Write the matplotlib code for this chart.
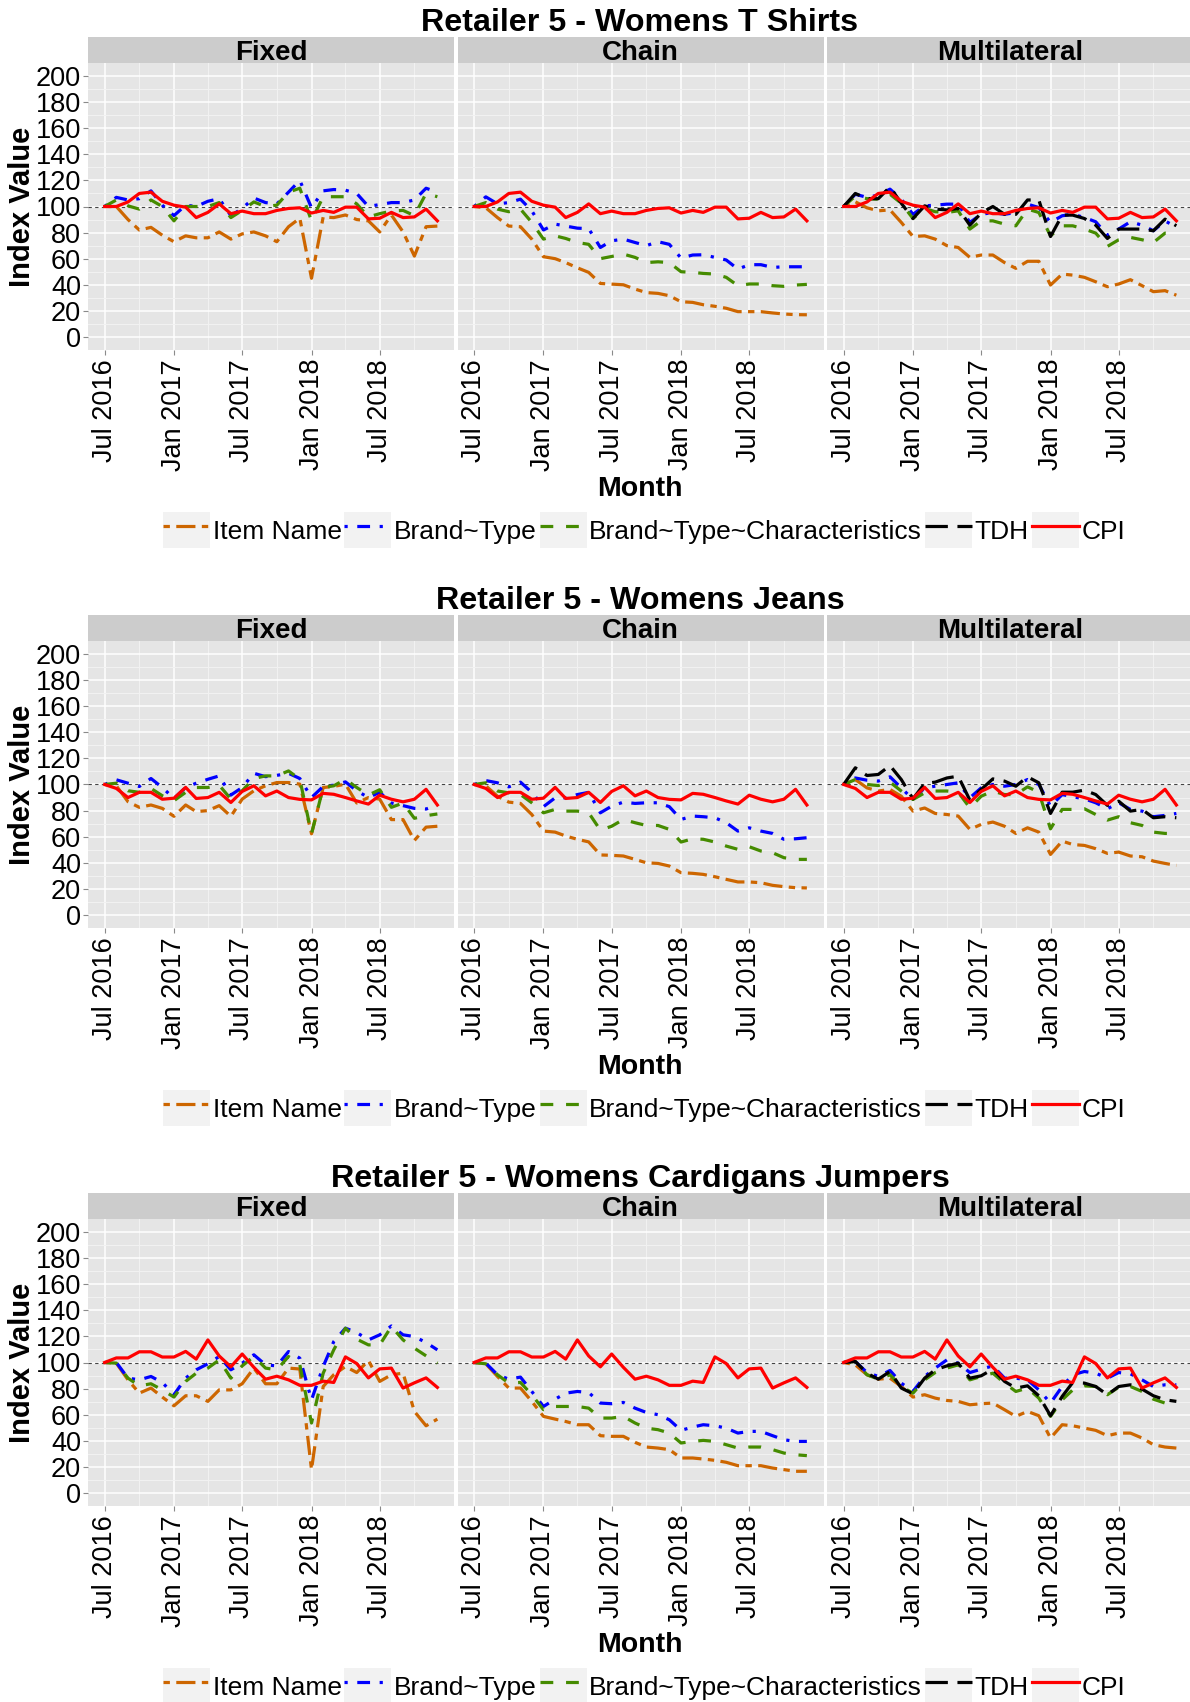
import matplotlib
matplotlib.use('Agg')
import matplotlib.pyplot as plt
import pandas as pd
from matplotlib.patches import Rectangle
from matplotlib.lines import Line2D
from matplotlib.legend_handler import HandlerTuple
from matplotlib.ticker import FixedLocator

plt.rcParams['font.family'] = ['Liberation Sans', 'DejaVu Sans']

# ---------------- data ----------------
months = pd.date_range('2016-07-01', periods=30, freq='MS')
major_ticks = pd.to_datetime(['2016-07-01', '2017-01-01', '2017-07-01', '2018-01-01', '2018-07-01'])
minor_ticks = pd.to_datetime(['2016-10-01', '2017-04-01', '2017-10-01', '2018-04-01', '2018-10-01'])
tick_labels = ['Jul 2016', 'Jan 2017', 'Jul 2017', 'Jan 2018', 'Jul 2018']

titles = ['Retailer 5 - Womens T Shirts', 'Retailer 5 - Womens Jeans', 'Retailer 5 - Womens Cardigans Jumpers']
methods = ['Fixed', 'Chain', 'Multilateral']
series_names = ['Item Name', 'Brand~Type', 'Brand~Type~Characteristics', 'TDH', 'CPI']

# Womens T Shirts
ts_cpi = [100, 100, 103.5, 110, 111, 104, 101, 99.5, 91.5, 95.5, 102, 94.5, 96.5, 94.5, 94.5, 97, 98.5, 99, 95, 97,
          95.5, 99.5, 99.5, 90.5, 91, 95.5, 91.5, 92, 98, 89]
ts_fixed_item = [100, 100, 90, 82, 84, 78, 73, 77.5, 76, 76, 80.5, 75, 79, 80.5, 77.5, 73, 84.5, 91, 45, 92,
                 91.5, 93.5, 90, 89, 80.5, 93.5, 80.5, 62, 84.5, 85]
ts_fixed_bt = [100, 107, 105, 106, 112, 101, 93, 101, 100, 104, 106, 93, 98.5, 106.5, 103, 102, 111, 120, 99, 112,
               113, 112.5, 110, 100, 101.5, 103, 103, 105, 114, 111]
ts_fixed_btc = [100, 105, 100.5, 98, 105, 100, 89, 100, 100, 100, 103, 91.5, 97, 103.5, 100, 101, 111, 114, 89, 107.5,
                107.5, 107.5, 102, 92, 94.5, 96.5, 97, 93, 110, 107.5]
ts_chain_item = [100, 99, 91.5, 85, 84.5, 75, 61.5, 60, 57, 53, 49.5, 41, 40.5, 40, 36.7, 34, 33.4, 31.6, 27, 26.5,
                 24.7, 23.5, 22, 19.4, 19.4, 19.4, 18.4, 17.6, 17.1, 17]
ts_chain_bt = [100, 107.4, 102, 103, 105.6, 96.7, 82, 86.5, 85, 83.4, 83, 68.6, 73.7, 75, 72.4, 70, 73, 71, 60.5, 62.8,
               63, 61, 59, 52, 55.4, 55.4, 53.3, 53.8, 53.8, 53.8]
ts_chain_btc = [100, 103, 98, 96, 98, 87.8, 75, 77.5, 75.5, 72.4, 71, 60, 61.7, 63.5, 61, 57, 57.6, 57, 50, 49.5,
                48.7, 48.2, 45.7, 39.3, 40.6, 40.6, 39.3, 38.8, 39.8, 40.3]
ts_multi_item = [100, 103.6, 99, 96.7, 97.4, 87.8, 77, 77.5, 75, 70, 68.6, 61, 62.8, 62.8, 57, 52.6, 58, 58, 39.8, 48.2,
                 47.4, 45.7, 42.3, 38.5, 40.6, 43.9, 39.3, 34.7, 35.5, 32]
ts_multi_bt = [100, 109.4, 107, 108.7, 113.3, 105.6, 94, 100.5, 101, 101.8, 101.8, 87.8, 94, 95.4, 94, 95.4, 101.8, 99.2,
               87.8, 92.9, 94, 91.6, 88.3, 78, 82.7, 88.3, 85.7, 81.4, 89, 84]
ts_multi_btc = [100, 108, 106, 105.6, 109.4, 102.5, 90.8, 98.5, 96, 95.4, 96.7, 82.7, 89, 89, 86.5, 85.2, 98, 95.4,
                77.5, 85.2, 85.2, 82.7, 79.6, 69.4, 74.5, 76.3, 74.5, 72.4, 79.6, 79]
ts_multi_tdh = [100, 110, 106, 106, 115, 102.5, 90.8, 100.5, 98, 97.4, 98.5, 85.7, 95, 100, 94, 94, 105, 105, 77, 93.4,
                93.4, 90.8, 85.7, 75.5, 82.7, 82.7, 82.7, 81.4, 90.3, 85.2]

# Womens Jeans
jn_cpi = [100, 97, 90, 94, 94, 88.7, 89.5, 97.8, 89.3, 90, 94, 86.2, 94.7, 99, 91.3, 95, 90, 88.6, 88.2, 93.2,
          92.5, 90, 87.4, 85, 91.8, 88.7, 86.7, 88.7, 96.3, 84.3]
jn_fixed_item = [100, 99, 86.8, 82.5, 84.3, 81.7, 75.6, 84.3, 79.2, 80, 83.8, 75.6, 88.8, 95.2, 99, 101.5, 101.5, 100.3,
                 62.2, 97.7, 98.5, 100.3, 85.8, 90, 88.8, 73.1, 73.1, 57.1, 67.3, 68]
jn_fixed_bt = [100, 103.6, 101, 98.5, 104.6, 97.7, 89.3, 97.7, 101, 104, 106.6, 91.9, 97.7, 108.6, 106, 107, 108.6,
               104.6, 90, 98.5, 99.5, 102, 95.2, 90, 94, 85.8, 83.8, 81.7, 81.2, 84.3]
jn_fixed_btc = [100, 101, 95.2, 94, 97, 91.4, 87.6, 94, 97.7, 97.7, 99.5, 88.8, 95.2, 104.6, 106.6, 106.6, 110.4, 104,
                62.2, 97.7, 99, 104, 97.7, 91.9, 96, 82.5, 85.8, 74.1, 76.1, 77.4]
jn_chain_item = [100, 99, 91, 86.5, 85.5, 77, 64.3, 63.5, 60.5, 58, 56, 46, 45.7, 45.2, 42.6, 40, 39.5, 37.5, 32.4,
                 31.9, 31.1, 29.3, 27.3, 25.3, 25.3, 24.7, 22.7, 21.7, 20.9, 20.7]
jn_chain_bt = [100, 103, 101.3, 98.2, 101.8, 94, 83, 89.8, 89.8, 92.3, 94, 78.3, 83.4, 86.5, 85.5, 86, 86, 83, 73.2,
               75.8, 75.3, 74.5, 70.7, 64.3, 66.8, 64.3, 62.5, 58, 58.4, 59.2]
jn_chain_btc = [100, 101.3, 95, 93.6, 92.3, 86, 78.3, 80.9, 79.6, 79.6, 78.3, 65, 68, 73.2, 70.7, 68.6, 68.6, 65.6,
                55.9, 58.4, 58, 55.9, 52.8, 50.3, 52.3, 49, 47.7, 43.9, 42.6, 42.6]
jn_multi_item = [100, 103.8, 97.4, 95, 96.2, 91, 79.6, 82, 77.8, 77, 75.8, 65.6, 69.4, 71.2, 68, 62.5, 66.8, 63.5,
                 46.4, 56.6, 54, 53.3, 50.8, 47.2, 48.2, 45.2, 44.6, 41.3, 39.5, 38]
jn_multi_bt = [100, 105, 103.3, 102.6, 105.9, 97.4, 88.5, 97.4, 98.7, 100, 101.3, 89.8, 97.4, 100, 98.7, 100, 103.8,
               100, 83.4, 92.3, 90.6, 89, 86, 81.4, 86, 80.9, 79.6, 75.3, 76.3, 77.8]
jn_multi_btc = [100, 103.8, 100, 99.2, 101.8, 95, 88.5, 93.6, 95, 95, 94.1, 82.1, 91, 95, 92.3, 92.3, 98.2, 94.1, 66,
                80.9, 80.9, 81.4, 77, 72.7, 75.3, 70.7, 68.6, 63.5, 62.5, 62.5]
jn_multi_tdh = [100, 112.8, 106.9, 107.7, 114.5, 103.8, 89, 100.8, 101.8, 105, 106.4, 88, 96.2, 104.3, 102.6, 98.7,
                105.9, 101.3, 77.8, 94.1, 94.1, 95.7, 92.3, 84, 87.2, 79.6, 80.9, 74.5, 75.3, 74.5]

# Womens Cardigans Jumpers
cj_cpi = [100, 103.5, 103.5, 108.2, 108.2, 104.2, 104.2, 108.5, 102.6, 117.3, 105, 96.7, 106.5, 96.3, 87.2, 89.5,
          86.7, 82.5, 82.5, 85.7, 84.7, 104.3, 99.2, 88.2, 95.1, 95.7, 80.4, 84.4, 88.2, 80.9]
cj_fixed_item = [100, 99.5, 86.7, 76.5, 80.4, 73.5, 66.8, 74.5, 74.5, 70.2, 79, 79, 83.7, 95.7, 83.7, 83.7, 95.7, 95,
                 17.9, 81.6, 90.6, 96.9, 92.3, 101.5, 85.5, 90.6, 91.8, 62.5, 51.5, 56.6]
cj_fixed_bt = [100, 100, 88, 86.7, 89.3, 84.7, 75.3, 88, 94.4, 99, 104.6, 94.4, 99.5, 105.9, 98.2, 97.4, 108.4, 103.3,
               71.4, 96.9, 116, 126.3, 123, 117.3, 121.2, 128, 121.2, 119.9, 115.3, 109.7]
cj_fixed_btc = [100, 99.5, 88, 82.1, 83.7, 79, 73.5, 85.5, 91.8, 95.7, 102, 88, 97.4, 104.6, 95.7, 94.4, 104.6, 98.2,
                53.6, 91.8, 109.7, 126.3, 117.9, 113.5, 113.5, 127.6, 117.3, 111, 105.1, 99.5]
cj_chain_item = [100, 99, 89.3, 80.4, 80.4, 70.2, 58.7, 56.6, 54.8, 52.3, 52.3, 43.9, 43.4, 43.4, 38.8, 35.2, 34.4,
                 33.2, 26.8, 26.8, 26, 25, 23.5, 20.9, 20.9, 20.9, 19.1, 17.9, 16.6, 16.6]
cj_chain_bt = [100, 99.5, 90.6, 87.2, 88.8, 77.8, 66.3, 71.9, 76.5, 77.8, 77, 68.9, 68.4, 69.4, 65, 61.7, 60, 56.1, 48,
               50.5, 52.3, 51.5, 49.7, 45.9, 47.2, 47.2, 43.9, 40.8, 39.5, 39.5]
cj_chain_btc = [100, 99, 90.6, 84.2, 84.7, 75.3, 63.8, 66.3, 66.3, 66.3, 65, 57.4, 57.4, 58.7, 53.6, 49.7, 48.5, 45.9,
                38.3, 39.5, 40.3, 39.5, 37, 34.4, 35.2, 35.2, 33.2, 30.6, 29.3, 28.6]
cj_multi_item = [100, 98.2, 90.6, 87.2, 88, 81.6, 73.5, 75.3, 72.7, 70.9, 70.2, 67.6, 68.4, 68.9, 63.8, 58.7, 62.5,
                 59.2, 42.1, 52.3, 51.5, 49.7, 48, 43.9, 45.9, 45.9, 42.1, 37, 35.2, 34.4]
cj_multi_bt = [100, 100.8, 92.3, 89.3, 93.9, 84.2, 77.8, 89.3, 95.7, 102, 99.5, 92.3, 94.9, 97.4, 88, 88, 86.7, 79,
               68.9, 81.6, 90.6, 93.1, 91.8, 88, 92.3, 91.3, 86.7, 81.6, 82.9, 82.9]
cj_multi_btc = [100, 100.8, 90.6, 87.2, 90.6, 81.6, 76.5, 86.7, 92.3, 95.7, 98.2, 86.7, 89.3, 91.8, 84.2, 77.8, 80.4,
                72.7, 58.7, 71.4, 79, 82.1, 81.6, 75.3, 81.1, 81.6, 77.8, 71.9, 68.9, 68.4]
cj_multi_tdh = [100, 100.8, 91.8, 87.2, 93.1, 80.4, 76, 88, 94.4, 97.4, 99.5, 88, 89.8, 94.9, 85.5, 80.4, 82.1, 74.5,
                59.2, 74, 84.7, 84.2, 81.6, 75.3, 81.6, 82.9, 79.6, 74.5, 71.4, 70.2]

panels = [
    {'Fixed': [ts_fixed_item, ts_fixed_bt, ts_fixed_btc, None, ts_cpi],
     'Chain': [ts_chain_item, ts_chain_bt, ts_chain_btc, None, ts_cpi],
     'Multilateral': [ts_multi_item, ts_multi_bt, ts_multi_btc, ts_multi_tdh, ts_cpi]},
    {'Fixed': [jn_fixed_item, jn_fixed_bt, jn_fixed_btc, None, jn_cpi],
     'Chain': [jn_chain_item, jn_chain_bt, jn_chain_btc, None, jn_cpi],
     'Multilateral': [jn_multi_item, jn_multi_bt, jn_multi_btc, jn_multi_tdh, jn_cpi]},
    {'Fixed': [cj_fixed_item, cj_fixed_bt, cj_fixed_btc, None, cj_cpi],
     'Chain': [cj_chain_item, cj_chain_bt, cj_chain_btc, None, cj_cpi],
     'Multilateral': [cj_multi_item, cj_multi_bt, cj_multi_btc, cj_multi_tdh, cj_cpi]},
]

# ---------------- style ----------------
colors = ['#CD6600', '#0000FF', '#458B00', '#000000', '#FF0000']
dash_patterns = [(2, 2, 6, 2), (1, 3, 4, 3), (4, 4), (7, 3), None]
LW = 2.3

W, H = 1190, 1702
fig = plt.figure(figsize=(W / 100, H / 100), dpi=100)


def rect(x0, y0, x1, y1):
    return [x0 / W, 1 - y1 / H, (x1 - x0) / W, (y1 - y0) / H]


span = months[-1] - months[0]
xpad = span * 0.05
xlim = (months[0] - xpad, months[-1] + xpad)
lefts = [88, 457.5, 827]
PW = 366
ROW = 578

for r, title in enumerate(titles):
    dy = ROW * r
    fig.text(640 / W, 1 - (23 + dy) / H, title, ha='center', va='center',
             fontsize=23.2, fontweight='bold')
    for c, method in enumerate(methods):
        x0 = lefts[c]
        x1 = x0 + PW
        ax = fig.add_axes(rect(x0, 63 + dy, x1, 350 + dy))
        ax.set_facecolor('#E5E5E5')
        for s in ax.spines.values():
            s.set_visible(False)
        ax.set_xlim(xlim)
        ax.set_ylim(-10, 210)
        ax.xaxis.set_major_locator(FixedLocator([matplotlib.dates.date2num(d) for d in major_ticks]))
        ax.xaxis.set_minor_locator(FixedLocator([matplotlib.dates.date2num(d) for d in minor_ticks]))
        ax.set_xticklabels(tick_labels, rotation=90, va='top', ha='center')
        ax.yaxis.set_major_locator(FixedLocator(list(range(0, 201, 20))))
        ax.yaxis.set_minor_locator(FixedLocator(list(range(10, 200, 20))))
        ax.set_axisbelow(True)
        ax.grid(which='major', color='white', lw=1.1)
        ax.grid(which='minor', color='#F2F2F2', lw=0.7)
        ax.tick_params(which='minor', length=0)
        ax.tick_params(axis='x', which='major', length=3.4, width=0.8, color='#8A8A8A',
                       labelsize=19.5, pad=3, labelcolor='black')
        if c == 0:
            ax.tick_params(axis='y', which='major', length=3.4, width=0.8, color='#8A8A8A',
                           labelsize=19.5, pad=1.5, labelcolor='black')
        else:
            ax.tick_params(axis='y', which='major', length=0, labelleft=False)

        ax.axhline(100, color='#444444', lw=0.8, ls=(0, (3, 3)), zorder=1.5)
        for k, vals in enumerate(panels[r][method]):
            if vals is None:
                continue
            ls = '-' if dash_patterns[k] is None else (0, dash_patterns[k])
            ax.plot(months, vals, color=colors[k], lw=LW, ls=ls, zorder=2 + k * 0.1,
                    solid_joinstyle='round')

        strip = fig.add_axes(rect(x0, 37 + dy, x1, 63 + dy))
        strip.set_facecolor('#CCCCCC')
        strip.set_xticks([])
        strip.set_yticks([])
        for s in strip.spines.values():
            s.set_visible(False)
        strip.text(0.5, 0.40, method, transform=strip.transAxes, ha='center', va='center',
                   fontsize=20, fontweight='bold')

    fig.text(22 / W, 1 - (206.5 + dy) / H, 'Index Value', rotation=90, ha='center', va='center',
             fontsize=21, fontweight='bold')
    fig.text(640 / W, 1 - (489 + dy) / H, 'Month', ha='center', va='center',
             fontsize=20.5, fontweight='bold')

    handles = []
    for k, name in enumerate(series_names):
        ls = '-' if dash_patterns[k] is None else (0, dash_patterns[k])
        bg = Rectangle((0, 0), 1, 1, facecolor='#F2F2F2', edgecolor='none')
        ln = Line2D([], [], color=colors[k], lw=LW, ls=ls)
        handles.append((bg, ln))
    fig.legend(handles, series_names, loc='center', bbox_to_anchor=(644 / W, 1 - (530 + dy) / H),
               ncol=5, frameon=False, fontsize=19, handlelength=1.78, handleheight=1.67,
               handletextpad=0.1, columnspacing=0.11, borderpad=0, borderaxespad=0,
               handler_map={tuple: HandlerTuple(ndivide=1, pad=0)})

fig.savefig('out.png', dpi=100)
